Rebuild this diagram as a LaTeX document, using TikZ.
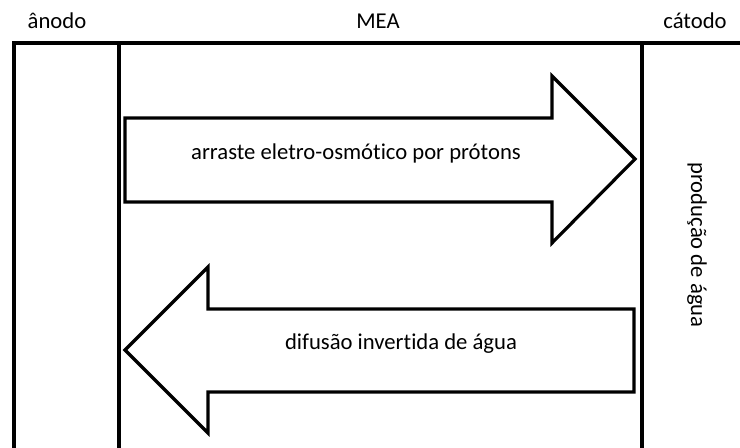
\documentclass[tikz,border=0pt]{standalone}
\usepackage{fontspec}
\setmainfont[Ligatures=NoCommon]{Carlito}
\usepackage{tikz}
\usetikzlibrary{positioning}
\tikzset{
  wall/.style={line width=3pt},
  flow/.style={draw=black,line width=2.4pt,fill=white,line join=miter},
  lbl/.style={font=\fontsize{17}{20}\selectfont,inner sep=0pt,anchor=center},
}

\begin{document}
\begin{tikzpicture}[x=0.75pt,y=-0.75pt]
  \useasboundingbox (0,0) rectangle (740,448);
  % frame of the cell
  \draw[wall] (14,448) -- (14,43) -- (740,43);
  \draw[wall] (119,43) -- (119,448);
  \draw[wall] (642,43) -- (642,448);
  % electro-osmotic drag, towards the cathode
  \draw[flow] (125,118) -- (552,118) -- (552,76) -- (635,159)
    -- (552,243) -- (552,202) -- (125,202) -- cycle;
  % back diffusion, towards the anode
  \draw[flow] (634,309) -- (208,309) -- (208,267) -- (125,350)
    -- (208,433) -- (208,392) -- (634,392) -- cycle;
  % labels
  \node[lbl] (anodo) at (57,21) {ânodo};
  \node[lbl] (mea) at (378,21) {MEA};
  \node[lbl] (catodo) at (695,21) {cátodo};
  \node[lbl] (drag) at (356,153) {arraste eletro-osmótico por prótons};
  \node[lbl] (diff) at (401,344) {difusão invertida de água};
  \node[lbl,rotate=-90] (prod) at (697,245) {produção de água};
\end{tikzpicture}
\end{document}
